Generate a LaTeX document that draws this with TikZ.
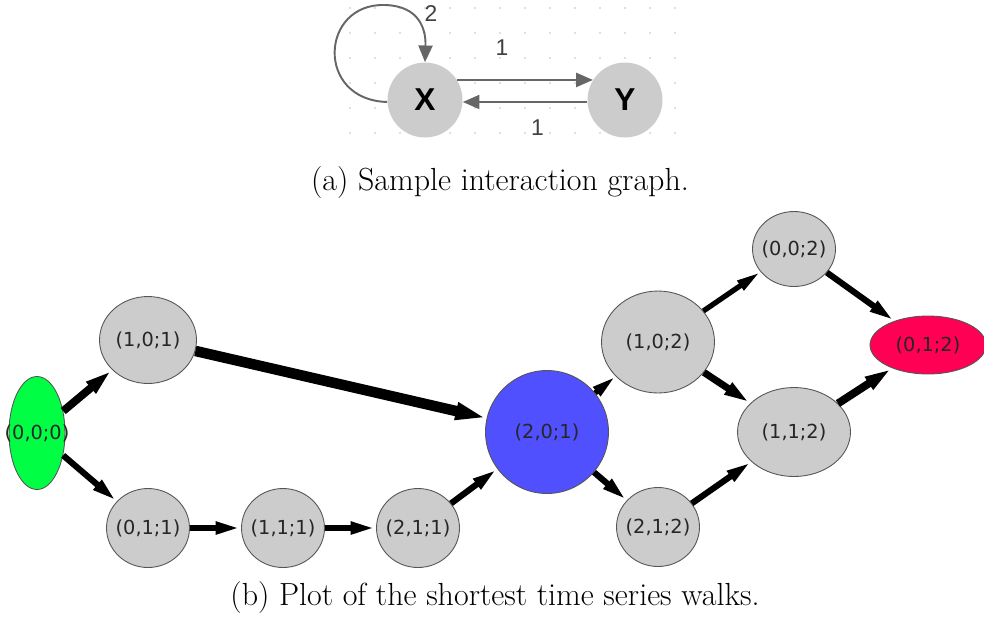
\documentclass[tikz,border=0pt]{standalone}
\usepackage{fontspec}
\usetikzlibrary{arrows.meta,shapes.geometric}
\newfontfamily\graphfont{Liberation Sans}
\newfontfamily\statefont{DejaVu Sans}
\definecolor{nodegray}{HTML}{CCCCCC}
\definecolor{edgegray}{HTML}{666666}
\definecolor{startgreen}{HTML}{00FF44}
\definecolor{midblue}{HTML}{5050FF}
\definecolor{goalred}{HTML}{FF0055}
\definecolor{rimgray}{HTML}{555555}

\begin{document}
\begin{tikzpicture}[
    x=0.02cm, y=-0.02cm,
    vertex/.style={circle, fill=nodegray, minimum size=1.5cm, inner sep=0pt,
                   font=\graphfont\bfseries\fontsize{18}{18}\selectfont},
    link/.style={-{Triangle[length=9.5pt, width=8pt]}, edgegray, line width=1.1pt},
    weight/.style={font=\graphfont\fontsize{13}{13}\selectfont, text=black!75},
    state/.style={ellipse, draw=rimgray, line width=0.5pt, fill=nodegray, inner sep=0pt,
                  label={[font=\statefont\fontsize{11}{11}\selectfont, text=black!85]center:#1}},
    walk/.style={-{Triangle[length=10pt 1.3, width=3pt 1]}, line width=#1},
    walk/.default=3.5pt,
    caption/.style={font=\fontsize{18.2}{22}\selectfont}
]
    \clip (0,0) rectangle (984,630);
    \fill[white] (0,0) rectangle (984,630);

    % === (a) INTERACTION GRAPH ===

    % dotted background grid
    \foreach \gx in {350,375,...,675} {
        \foreach \gy in {8,33,...,133} {
            \fill[black!25] (\gx,\gy) circle (0.8);
        }
    }

    \node[vertex] (X) at (425,100) {X};
    \node[vertex] (Y) at (625,100) {Y};

    \draw[link] (X.32) -- node[weight, pos=0.33, above=10pt] (w1) {1} (Y.148);
    \draw[link] (Y.183) -- node[weight, pos=0.4, below=6pt] (w2) {1} (X.357);
    \draw[link] (X.183) .. controls (315,100) and (320,3) .. (385,5)
        .. controls (420,6) and (426,30) .. (X.north);
    \node[weight] (w3) at (431,14) {2};

    \node[caption] (capa) at (500,183) {(a) Sample interaction graph.};

    % === (b) SHORTEST TIME SERIES WALKS ===

    % states (x,y;t)
    \node[state={(0,0;0)}, fill=startgreen, minimum width=1.12cm, minimum height=2.26cm] (s000) at (37,433) {};
    \node[state={(1,0;1)}, minimum width=1.94cm, minimum height=1.74cm] (s101) at (148,340) {};
    \node[state={(0,1;1)}, minimum width=1.66cm, minimum height=1.58cm] (s011) at (148,528) {};
    \node[state={(1,1;1)}, minimum width=1.66cm, minimum height=1.58cm] (s111) at (283,528) {};
    \node[state={(2,1;1)}, minimum width=1.66cm, minimum height=1.58cm] (s211) at (418,528) {};
    \node[state={(2,0;1)}, fill=midblue, minimum width=2.46cm, minimum height=2.46cm] (s201) at (547,432) {};
    \node[state={(1,0;2)}, minimum width=2.26cm, minimum height=2.04cm] (s102) at (658,342) {};
    \node[state={(2,1;2)}, minimum width=1.66cm, minimum height=1.58cm] (s212) at (658,527) {};
    \node[state={(0,0;2)}, minimum width=1.66cm, minimum height=1.5cm] (s002) at (794,249) {};
    \node[state={(1,1;2)}, minimum width=2.26cm, minimum height=1.78cm] (s112) at (794,432) {};
    \node[state={(0,1;2)}, fill=goalred, minimum width=2.32cm, minimum height=1.16cm] (s012) at (928,345) {};

    % walks, thicker = used more often
    \draw[walk=4.5pt] (s000) -- (s101);
    \draw[walk] (s000) -- (s011);
    \draw[walk=6pt] (s101) -- (s201);
    \draw[walk] (s011) -- (s111);
    \draw[walk] (s111) -- (s211);
    \draw[walk] (s211) -- (s201);
    \draw[walk=3pt] (s201) -- (s102);
    \draw[walk] (s201) -- (s212);
    \draw[walk=3pt] (s102) -- (s002);
    \draw[walk=4pt] (s102) -- (s112);
    \draw[walk] (s212) -- (s112);
    \draw[walk] (s002) -- (s012);
    \draw[walk=4.5pt] (s112) -- (s012);

    \node[caption] (capb) at (495,598) {(b) Plot of the shortest time series walks.};
\end{tikzpicture}
\end{document}
